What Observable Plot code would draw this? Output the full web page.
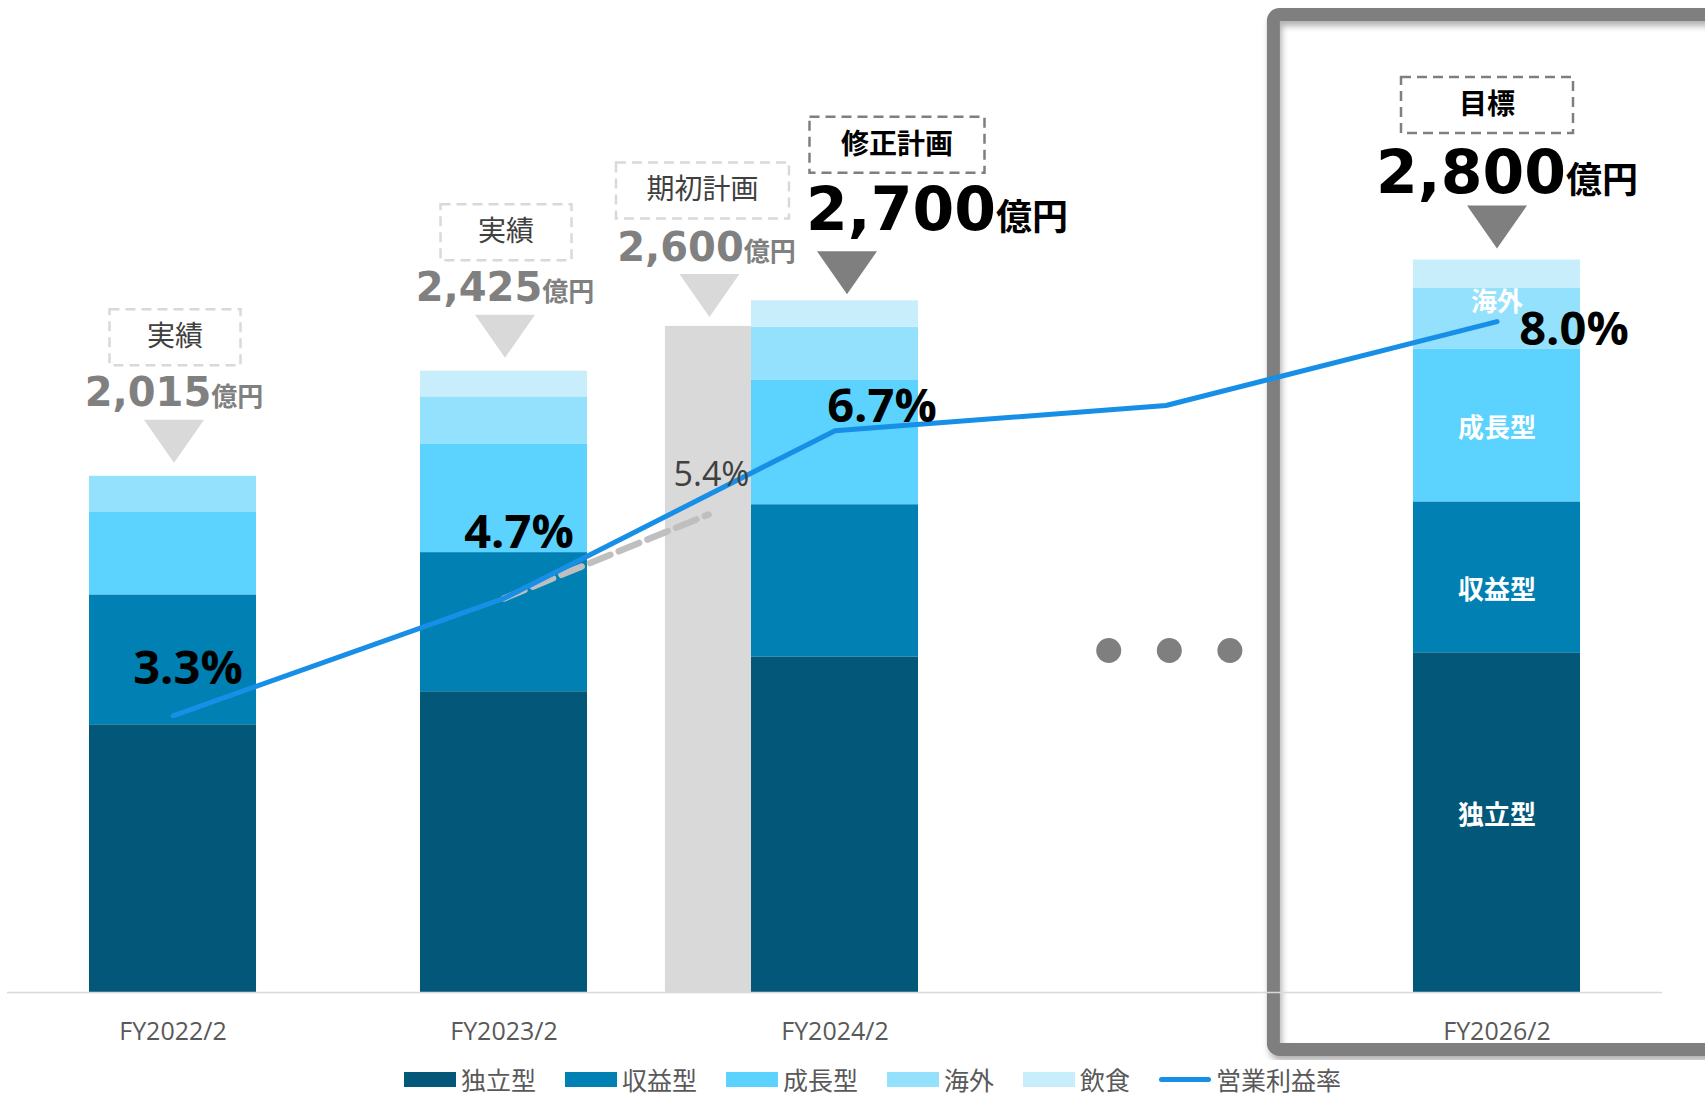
<!DOCTYPE html>
<html>
<head>
<meta charset="utf-8">
<script src="https://cdn.jsdelivr.net/npm/d3@7"></script>
<script src="https://cdn.jsdelivr.net/npm/@observablehq/plot@0.6"></script>
<style>
html, body { margin: 0; padding: 0; background: #fff; overflow: hidden; width: 1705px; height: 1098px; }
#chart svg { display: block; }
#legend { height: 38px; box-sizing: border-box; padding-top: 0; padding-left: 404px; display: flex; align-items: center;
  font-family: "Noto Sans CJK JP", sans-serif; font-size: 25px; line-height: 25px; color: #595959; }
#legend .item { display: flex; align-items: center; margin-right: 29px; height: 25px; }
#legend .sw { width: 52px; height: 15px; margin-right: 5px; }
#legend .ln { width: 52px; height: 5px; border-radius: 3px; margin-right: 5px; }
</style>
</head>
<body>
<div id="chart"></div>
<div id="legend"></div>
<script>
// ---------------- data ----------------
const categories = ["FY2022/2", "FY2023/2", "FY2024/2", "FY2025/2", "FY2026/2"];
const tickLabels = ["FY2022/2", "FY2023/2", "FY2024/2", "", "FY2026/2"];
const segments = ["独立型", "収益型", "成長型", "海外", "飲食"];
const dokuritsu = [1045, 1174, 1310, null, 1326];
const shueki    = [507, 543, 594, null, 589];
const seicho    = [324, 422, 485, null, 597];
const kaigai    = [139, 186, 208, null, 238];
const inshoku   = [0, 100, 103, null, 109];
const opMargin = [3.3, 4.7, 6.7, 7.0, 8.0];
const marginLabels = ["3.3%", "4.7%", "6.7%", "", "8.0%"];
const headlineStatus = ["実績", "実績", "修正計画", null, "目標"];
const headlineSales = ["2,015", "2,425", "2,700", null, "2,800"];
const planStatus = "期初計画";
const planSales = 2600;
const planSalesLabel = "2,600";
const planMargin = 5.7;
const planMarginLabel = "5.4%";
const unitLabel = "億円";
const lineLabel = "営業利益率";

// ---------------- styles / layout ----------------
const colors = ["#03587A", "#0080B3", "#5CD3FE", "#94E1FD", "#C8EEFC"];
const lineColor = "#178FE6";
const yMax = 3872;     // left axis top (億円)
const pctMax = 11.83;  // right axis top (%)
const pctY = v => v * yMax / pctMax;
const hw = 0.2523;     // half bar width (category units)
const planW = 0.26;    // plan bar width (category units)
const iRev = categories.indexOf("FY2024/2");
const iGap = categories.indexOf("FY2025/2");
const iTarget = categories.indexOf("FY2026/2");
const planX = iRev - hw - planW / 2;
const jpFont = "Noto Sans CJK JP";
const numFont = "DejaVu Sans, Noto Sans CJK JP";
const latFont = "Open Sans, Noto Sans CJK JP";

// ---------------- derived ----------------
const seriesValues = [dokuritsu, shueki, seicho, kaigai, inshoku];
const stacked = [];
const totals = categories.map((c, i) => {
  let acc = 0, any = false;
  segments.forEach((s, k) => {
    const v = seriesValues[k][i];
    if (v == null) return;
    any = true;
    stacked.push({i, seg: s, y1: acc, y2: acc + v});
    acc += v;
  });
  return any ? acc : null;
});
const opRows = opMargin.map((v, i) => ({i, v}));

const annotations = [];
categories.forEach((c, i) => {
  if (headlineStatus[i]) annotations.push({x: i, y: totals[i], status: headlineStatus[i], sales: headlineSales[i]});
});
annotations.push({x: planX, y: planSales, status: planStatus, sales: planSalesLabel});

const grayStyle = {boxH: 56, boxStroke: "#D9D9D9", labelFill: "#404040", labelWeight: "normal",
  numFill: "#808080", numSize: 40, unitSize: 26, triFill: "#D9D9D9"};
const blackStyle = {boxH: 56, boxStroke: "#7F7F7F", labelFill: "#000", labelWeight: "bold",
  numFill: "#000", numSize: 60, unitSize: 36, triFill: "#7F7F7F"};
const annStyles = {
  "実績":   {...grayStyle, boxW: 131, triDy: -35, numDy: -70, boxDy: -139, triDx: 1, numDx: 1, boxDx: 2},
  "期初計画": {...grayStyle, boxW: 173, triDy: -31, numDy: -65, boxDy: -136, triDx: 1, numDx: -2, boxDx: -6},
  "修正計画": {...blackStyle, boxW: 175, triDy: -28, numDy: -71, boxDy: -156, triDx: 12, numDx: 102, boxDx: 62},
  "目標":   {...blackStyle, boxW: 172, triDy: -33, numDy: -67, boxDy: -155, triDx: 0, numDx: 10, boxDx: -10}
};
const triSymbol = {draw(ctx) { ctx.moveTo(-30, -21.5); ctx.lineTo(30, -21.5); ctx.lineTo(0, 21.5); ctx.closePath(); }};
function boxSymbol(w, h) {
  return {draw(ctx) { ctx.moveTo(-w / 2, -h / 2); ctx.lineTo(w / 2, -h / 2); ctx.lineTo(w / 2, h / 2); ctx.lineTo(-w / 2, h / 2); ctx.closePath(); }};
}
function annotationMarks(a) {
  const s = annStyles[a.status];
  return [
    Plot.dot([a], {x: "x", y: "y", symbol: triSymbol, r: 10, fill: s.triFill, stroke: "none", dx: s.triDx, dy: s.triDy}),
    Plot.text([a], {x: "x", y: "y", text: d => d.sales + unitLabel, dx: s.numDx, dy: s.numDy, lineAnchor: "bottom",
      fontSize: s.numSize, fontWeight: "bold", fill: s.numFill, fontFamily: numFont,
      ariaDescription: "headline-" + s.unitSize}),
    Plot.dot([a], {x: "x", y: "y", symbol: boxSymbol(s.boxW, s.boxH), r: 10, fill: "none", stroke: s.boxStroke,
      strokeWidth: 2.5, strokeDasharray: "10 6", dx: s.boxDx, dy: s.boxDy}),
    Plot.text([a], {x: "x", y: "y", text: "status", dx: s.boxDx, dy: s.boxDy, lineAnchor: "middle",
      fontSize: 28, fontWeight: s.labelWeight, fill: s.labelFill, fontFamily: jpFont})
  ];
}

const pctOffsets = [[15, -32], [15, -50], [47, -9], null, [77, 23]];
const pctLabelMarks = opRows.filter(d => marginLabels[d.i]).map(d =>
  Plot.text([d], {x: "i", y: r => pctY(r.v), text: r => marginLabels[r.i], dx: pctOffsets[d.i][0], dy: pctOffsets[d.i][1],
    lineAnchor: "bottom", fontSize: 47, fontWeight: "bold", fill: "#000", fontFamily: latFont}));

const segLabelDy = {"独立型": -7, "収益型": 13, "成長型": 3, "海外": -16};
const segLabelMarks = stacked.filter(d => d.i === iTarget && d.seg in segLabelDy).map(d =>
  Plot.text([d], {x: "i", y: r => (r.y1 + r.y2) / 2, text: "seg", dy: segLabelDy[d.seg], lineAnchor: "middle",
    fill: "white", fontWeight: "bold", fontSize: 26, fontFamily: jpFont}));

const svg = Plot.plot({
  width: 1705,
  height: 1060,
  marginLeft: 7,
  marginRight: 43,
  marginTop: 0,
  marginBottom: 68,
  x: {type: "linear", domain: [-0.5, 4.5], axis: null},
  y: {domain: [0, yMax], axis: null},
  color: {domain: segments, range: colors},
  style: {background: "white"},
  marks: [
    // highlight frame around the target year
    Plot.rect([iTarget], {x1: d => d - 0.674, x2: d => d + 1, insetTop: 14.5, insetBottom: -57.5, rx: 6,
      fill: "none", stroke: "#7F7F7F", strokeWidth: 13, ariaDescription: "target-frame"}),
    // stacked bars
    Plot.rect(stacked, {x1: d => d.i - hw, x2: d => d.i + hw, y1: "y1", y2: "y2", fill: "seg"}),
    // initial plan bar
    Plot.rect([planSales], {x1: () => iRev - hw - planW, x2: () => iRev - hw, y1: () => 0, y2: d => d, fill: "#D9D9D9"}),
    Plot.ruleY([0], {stroke: "#D9D9D9", strokeWidth: 1.5}),
    // x tick labels
    Plot.text(tickLabels.map((t, i) => i).filter(i => tickLabels[i]), {x: d => d, frameAnchor: "bottom", dy: 30,
      lineAnchor: "top", text: d => tickLabels[d], fontSize: 25, fill: "#595959", fontFamily: latFont}),
    // ellipsis for skipped year
    Plot.dot([-1, 0, 1], {x: d => iGap + 0.01 + d * 0.183, frameAnchor: "bottom", dy: -342, r: 12.5, fill: "#7F7F7F", stroke: "none"}),
    // plan margin dashed line
    Plot.line([{x: 1, v: opMargin[1]}, {x: planX, v: planMargin}], {x: "x", y: d => pctY(d.v), stroke: "#BFBFBF",
      strokeWidth: 6.5, strokeDasharray: "22 9"}),
    // operating margin line
    Plot.line(opRows, {x: "i", y: d => pctY(d.v), stroke: lineColor, strokeWidth: 5, strokeLinecap: "round", strokeLinejoin: "round"}),
    Plot.text([planMargin], {x: () => planX, y: d => pctY(d), text: () => planMarginLabel, dx: 3, dy: -29, lineAnchor: "bottom",
      fontSize: 34, fill: "#404040", fontFamily: latFont}),
    ...segLabelMarks,
    ...pctLabelMarks,
    ...annotations.flatMap(annotationMarks)
  ]
});

// mixed-size "number + 億円" headlines
d3.select(svg).selectAll("text").each(function () {
  const full = this.textContent;
  if (!full.endsWith(unitLabel) || full === unitLabel) return;
  let node = this.parentNode, unitSize = null;
  while (node && node !== svg) {
    const desc = node.getAttribute && node.getAttribute("aria-description");
    if (desc && desc.startsWith("headline-")) { unitSize = +desc.slice(9); break; }
    node = node.parentNode;
  }
  if (!unitSize) unitSize = 26;
  const num = full.slice(0, full.length - unitLabel.length);
  this.textContent = "";
  d3.select(this).append("tspan").text(num);
  d3.select(this).append("tspan").attr("font-size", unitSize).style("font-size", unitSize + "px").text(unitLabel);
});
// drop shadow on frame
const defs = d3.select(svg).insert("defs", ":first-child");
const f = defs.append("filter").attr("id", "frameShadow").attr("x", "-10%").attr("y", "-10%").attr("width", "130%").attr("height", "130%");
f.append("feDropShadow").attr("dx", 2).attr("dy", 5).attr("stdDeviation", 3).attr("flood-color", "#000").attr("flood-opacity", 0.3);
d3.select(svg).select('g[aria-description="target-frame"]').attr("filter", "url(#frameShadow)");

document.getElementById("chart").appendChild(svg);

// legend
const leg = d3.select("#legend");
segments.forEach((s, k) => {
  const it = leg.append("div").attr("class", "item");
  it.append("div").attr("class", "sw").style("background", colors[k]);
  it.append("span").text(s);
});
const li = leg.append("div").attr("class", "item");
li.append("div").attr("class", "ln").style("background", lineColor);
li.append("span").text(lineLabel);
</script>
</body>
</html>
